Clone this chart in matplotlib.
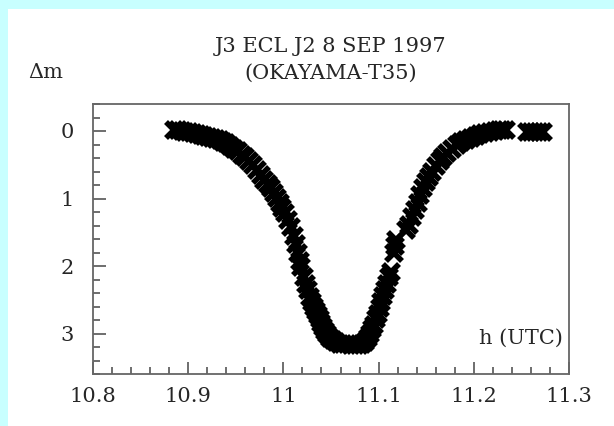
import matplotlib
matplotlib.use("Agg")
import matplotlib.pyplot as plt
from matplotlib.patches import Rectangle
from matplotlib.ticker import MultipleLocator

# light curve: time (h UTC) and delta mag
h_utc = [10.885, 10.889, 10.893, 10.897, 10.901, 10.905, 10.909, 10.913, 10.917, 10.921,
         10.925, 10.929, 10.933, 10.937, 10.940, 10.944, 10.948, 10.952, 10.956, 10.960,
         10.964, 10.968, 10.972, 10.976, 10.980, 10.984, 10.987, 10.990, 10.993, 10.996,
         10.999, 11.002, 11.005, 11.008, 11.011, 11.013, 11.015, 11.017, 11.019, 11.0215,
         11.024, 11.026, 11.028, 11.030, 11.032, 11.034, 11.036, 11.038, 11.040, 11.042,
         11.044, 11.046, 11.049, 11.052, 11.055, 11.059, 11.063, 11.067, 11.071, 11.075,
         11.079, 11.083, 11.086, 11.089, 11.091, 11.093, 11.095, 11.097, 11.099, 11.101,
         11.103, 11.105, 11.107, 11.109, 11.111, 11.113, 11.116, 11.117, 11.118, 11.129,
         11.132, 11.135, 11.138, 11.141, 11.144, 11.147, 11.150, 11.153, 11.156, 11.160,
         11.164, 11.168, 11.172, 11.177, 11.182, 11.187, 11.192, 11.197, 11.202, 11.207,
         11.212, 11.217, 11.222, 11.226, 11.230, 11.234, 11.256, 11.260, 11.264, 11.268,
         11.273]
delta_m = [-0.02, -0.01, 0.00, 0.01, 0.02, 0.03, 0.04, 0.06, 0.08, 0.09,
           0.11, 0.12, 0.14, 0.16, 0.18, 0.22, 0.26, 0.30, 0.35, 0.39,
           0.45, 0.51, 0.58, 0.65, 0.72, 0.79, 0.85, 0.92, 0.99, 1.06,
           1.14, 1.22, 1.32, 1.42, 1.56, 1.68, 1.80, 1.92, 2.02, 2.16,
           2.26, 2.36, 2.46, 2.53, 2.60, 2.67, 2.73, 2.79, 2.85, 2.91,
           2.96, 3.01, 3.06, 3.10, 3.13, 3.15, 3.16, 3.16, 3.17, 3.17,
           3.17, 3.15, 3.12, 3.06, 3.00, 2.94, 2.87, 2.79, 2.71, 2.62,
           2.53, 2.44, 2.35, 2.26, 2.17, 2.09, 1.80, 1.70, 1.61, 1.47,
           1.39, 1.28, 1.17, 1.06, 0.95, 0.85, 0.76, 0.68, 0.60, 0.52,
           0.44, 0.38, 0.32, 0.27, 0.21, 0.16, 0.13, 0.10, 0.08, 0.05,
           0.03, 0.01, 0.00, -0.01, -0.02, -0.02, 0.02, 0.02, 0.02, 0.02,
           0.02]

x_ticks = [10.8, 10.9, 11.0, 11.1, 11.2, 11.3]
x_tick_labels = ["10.8", "10.9", "11", "11.1", "11.2", "11.3"]
y_ticks = [0, 1, 2, 3]

txt = "#262626"
plt.rcParams['font.family'] = ['DejaVu Serif']

fig = plt.figure(figsize=(6.14, 4.26), dpi=100)
fig.patch.set_facecolor("#c8ffff")
fig.patches.append(Rectangle((8 / 614, 0), 1, (426 - 9) / 426, transform=fig.transFigure,
                             facecolor="white", edgecolor="none", zorder=-5))

ax = fig.add_axes([93 / 614, 52 / 426, 476 / 614, 270 / 426])
ax.set_zorder(2)
ax.patch.set_alpha(0)
ax.plot(h_utc, delta_m, linestyle="none", marker="x", ms=11, mew=4.0, color="black")

ax.set_xlim(10.8, 11.3)
ax.set_ylim(3.6, -0.4)
ax.set_xticks(x_ticks)
ax.set_xticklabels(x_tick_labels)
ax.set_yticks(y_ticks)
ax.xaxis.set_minor_locator(MultipleLocator(0.02))
ax.yaxis.set_minor_locator(MultipleLocator(0.2))
ax.tick_params(which="both", direction="in", top=False, right=False, colors="#555555",
               labelcolor=txt, labelsize=15)
ax.tick_params(which="major", length=9, width=1.2, pad=9)
ax.tick_params(which="minor", length=5, width=1.2)
ax.tick_params(axis="y", pad=14)
for s in ax.spines.values():
    s.set_color("#666666")
    s.set_linewidth(1.3)

ax.text(0.987, 0.133, "h (UTC)", transform=ax.transAxes, ha="right", va="center",
        fontsize=15, color=txt)
fig.text(331 / 614, 1 - 47 / 426, "J3 ECL J2 8 SEP 1997", ha="center", va="center",
         fontsize=15, color=txt)
fig.text(331 / 614, 1 - 73 / 426, "(OKAYAMA-T35)", ha="center", va="center",
         fontsize=15, color=txt)
fig.text(46 / 614, 1 - 73 / 426, "Δm", ha="center", va="center", fontsize=15, color=txt)

fig.savefig("out.png", dpi=100, facecolor=fig.get_facecolor())
